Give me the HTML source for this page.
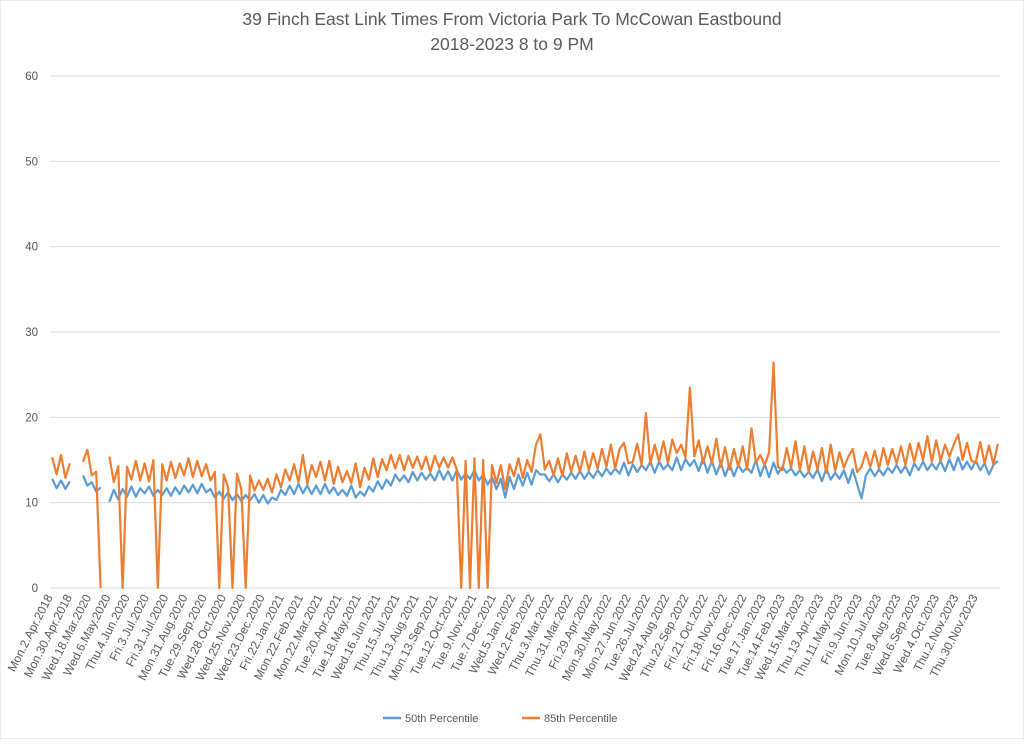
<!DOCTYPE html>
<html><head><meta charset="utf-8">
<style>
body{margin:0;background:#fff;}
svg text{font-family:"Liberation Sans",Arial,sans-serif;fill:#595959;}
</style></head>
<body>
<svg id="chart" width="1024" height="739" viewBox="0 0 1024 739" xmlns="http://www.w3.org/2000/svg">
<rect width="1024" height="739" fill="#fff" stroke="#d9d9d9"/>
<text x="512" y="25" text-anchor="middle" font-size="17.5">39 Finch East Link Times From Victoria Park To McCowan Eastbound</text>
<text x="512" y="50" text-anchor="middle" font-size="17.5">2018-2023 8 to 9 PM</text>
<g id="grid"></g><g id="ylabels"></g><g id="xlabels"></g><g id="series"></g>
<g>
<line x1="383" y1="718" x2="401" y2="718" stroke="#5b9bd5" stroke-width="2.5"/>
<text x="405" y="722" font-size="11">50th Percentile</text>
<line x1="522" y1="718" x2="540" y2="718" stroke="#ed7d31" stroke-width="2.5"/>
<text x="544" y="722" font-size="11">85th Percentile</text>
</g>
</svg>
<script>
const yTicks=[0,10,20,30,40,50,60];
const xLabels=["Mon.2.Apr.2018","Mon.30.Apr.2018","Wed.18.Mar.2020","Wed.6.May.2020","Thu.4.Jun.2020","Fri.3.Jul.2020","Fri.31.Jul.2020","Mon.31.Aug.2020","Tue.29.Sep.2020","Wed.28.Oct.2020","Wed.25.Nov.2020","Wed.23.Dec.2020","Fri.22.Jan.2021","Mon.22.Feb.2021","Mon.22.Mar.2021","Tue.20.Apr.2021","Tue.18.May.2021","Wed.16.Jun.2021","Thu.15.Jul.2021","Thu.13.Aug.2021","Mon.13.Sep.2021","Tue.12.Oct.2021","Tue.9.Nov.2021","Tue.7.Dec.2021","Wed.5.Jan.2022","Wed.2.Feb.2022","Thu.3.Mar.2022","Thu.31.Mar.2022","Fri.29.Apr.2022","Mon.30.May.2022","Mon.27.Jun.2022","Tue.26.Jul.2022","Wed.24.Aug.2022","Thu.22.Sep.2022","Fri.21.Oct.2022","Fri.18.Nov.2022","Fri.16.Dec.2022","Tue.17.Jan.2023","Tue.14.Feb.2023","Wed.15.Mar.2023","Thu.13.Apr.2023","Thu.11.May.2023","Fri.9.Jun.2023","Mon.10.Jul.2023","Tue.8.Aug.2023","Wed.6.Sep.2023","Wed.4.Oct.2023","Thu.2.Nov.2023","Thu.30.Nov.2023"];
const p50=[12.8,11.7,12.6,11.6,12.5,null, null,13.2,12,12.4,11.3,11.8, null,10.1,11.5,10.4,11.6,10.7, 11.9,10.7,11.7,11.1,11.9,10.8, 11.5,10.9,11.7,10.8,11.8,11, 12,11.2,12.1,11.1,12.2,11.2, 11.6,10.6,11.3,10.5,11.2,10.3, 11,10.2,10.9,10.3,11,10, 10.9,9.9,10.6,10.3,11.5,10.9, 12,11,12.2,11.1,12,11, 12,11,12.2,11.1,11.8,10.9, 11.5,10.8,12,10.6,11.3,10.8, 11.9,11.3,12.5,11.6,12.7,12, 13.3,12.5,13.2,12.4,13.6,12.6, 13.5,12.7,13.4,12.6,13.8,12.7, 13.7,12.6,13.8,12.7,13.4,12.8, 13.8,12.6,13.3,12.1,13,11.6, 12.8,10.6,13,11.6,13.3,12, 13.5,12.1,13.8,13.3,13.3,12.5, 13.3,12.4,13.3,12.7,13.5,12.8, 13.7,12.8,13.6,12.9,13.8,13.1, 14,13.3,14,13.4,14.7,13.2, 14.5,13.6,14.4,13.8,14.8,13.5, 14.8,13.9,14.5,13.8,15.3,13.8, 15.1,14.3,15,13.7,15.2,13.5, 14.9,13.3,14.7,13.1,14.5,13.1, 14.4,13.6,14.1,13.5,15,13.1, 14.5,13,14.7,13.4,14.2,13.5, 14,13.2,13.8,13,13.6,12.9, 13.9,12.5,14,12.7,13.5,12.8, 13.8,12.3,13.9,12.2,10.5,13.2, 14,13.1,13.9,13.2,14.1,13.5, 14.4,13.5,14.3,13.2,14.6,13.8, 14.8,13.8,14.6,13.9,14.9,13.7, 15.1,13.8,15.3,13.9,14.8,13.9, 14.9,13.8,14.6,13.3,14.4,14.9];
const p85=[15.3,13.3,15.6,12.9,14.6,null, null,14.8,16.2,13.2,13.6,0, null,15.4,12.4,14.3,0,14.2, 12.7,14.9,12.6,14.6,12.5,15, 0,14.5,12.6,14.8,12.9,14.6, 13.2,15.2,13,14.9,13.1,14.5, 12.6,13.6,0,13.3,11.8,0, 13.4,11.6,0,13.2,11.4,12.6, 11.5,12.8,11.2,13.3,11.8,13.9, 12.6,14.5,12.4,15.6,12.2,14.4, 13,14.8,12.6,14.9,12.2,14.2, 12.4,13.7,12.3,14.6,11.8,14.1, 12.7,15.2,13,15.1,13.8,15.6, 14,15.6,13.8,15.5,14.1,15.4, 13.9,15.4,13.6,15.5,14.1,15.3, 14.1,15.3,13.9,0,14.9,0, 15.2,0,15,0,14.4,12.3, 14.4,11.6,14.5,13.1,15.2,12.9, 15,13.6,16.8,18,13.9,14.9, 13.2,15.2,13.1,15.8,13.6,15.5, 13.6,16,13.8,15.8,14,16.3, 14.2,16.8,14,16.3,17,14.6, 14.8,16.9,14.4,20.5,14.5,16.8, 14.8,17.2,14.6,17.4,15.8,16.8, 15.3,23.5,15.4,17.3,14.6,16.6, 14.6,17.5,14.2,16.5,13.9,16.3, 14.2,16.6,13.9,18.7,14.7,15.6, 14.4,15.9,26.4,14.2,13.8,16.4, 14.1,17.2,13.8,16.6,13.6,16, 13.9,16.4,13.5,16.8,13.7,15.9, 14.1,15.4,16.3,13.6,14.2,15.9, 14.2,16.1,14,16.4,14.4,16.3, 14.6,16.6,14.4,16.9,14.8,17, 15,17.8,14.8,17.3,14.9,16.8, 15.4,16.8,18,15,17,14.9, 14.7,17.1,14.6,16.7,14.5,16.9];

const NS="http://www.w3.org/2000/svg";
const X0=50,X1=1000,Y0=588,Y1=76;
function yScale(v){return Y0-(v/60)*(Y0-Y1);}
function xScale(i,n){return X0+(X1-X0)*(i+0.5)/n;}
function labelX(i){return X0+i*(975-X0)/(xLabels.length-1);}
function mk(tag,attrs,parent){const e=document.createElementNS(NS,tag);for(const k in attrs)e.setAttribute(k,attrs[k]);parent.appendChild(e);return e;}
const grid=document.getElementById('grid'),yl=document.getElementById('ylabels'),xl=document.getElementById('xlabels'),ser=document.getElementById('series');
yTicks.forEach(t=>{
  const l=mk('line',{x1:X0,x2:X1,y1:yScale(t),y2:yScale(t),stroke:'#d9d9d9','stroke-width':1},grid);
  
  
  const tx=mk('text',{x:38,y:yScale(t)+4,'text-anchor':'end','font-size':11.5},yl);
  tx.textContent=t;
  
  
});
xLabels.forEach((s,i)=>{
  const x=labelX(i)+3,y=597;
  const tx=mk('text',{x:x,y:y,'text-anchor':'end','font-size':12,transform:'rotate(-63 '+x+' '+y+')'},xl);
  tx.textContent=s;
  
  
});
function pathFor(arr){
  let d='',pen=false;
  arr.forEach((v,i)=>{
    if(v===null){pen=false;return;}
    d+=(pen?'L':'M')+xScale(i,arr.length).toFixed(1)+' '+yScale(v).toFixed(1);
    pen=true;
  });
  return d;
}
const s1=mk('path',{d:pathFor(p50),fill:'none',stroke:'#5b9bd5','stroke-width':2.2,'stroke-linejoin':'round'},ser);


const s2=mk('path',{d:pathFor(p85),fill:'none',stroke:'#ed7d31','stroke-width':2.2,'stroke-linejoin':'round'},ser);


</script>
</body></html>
